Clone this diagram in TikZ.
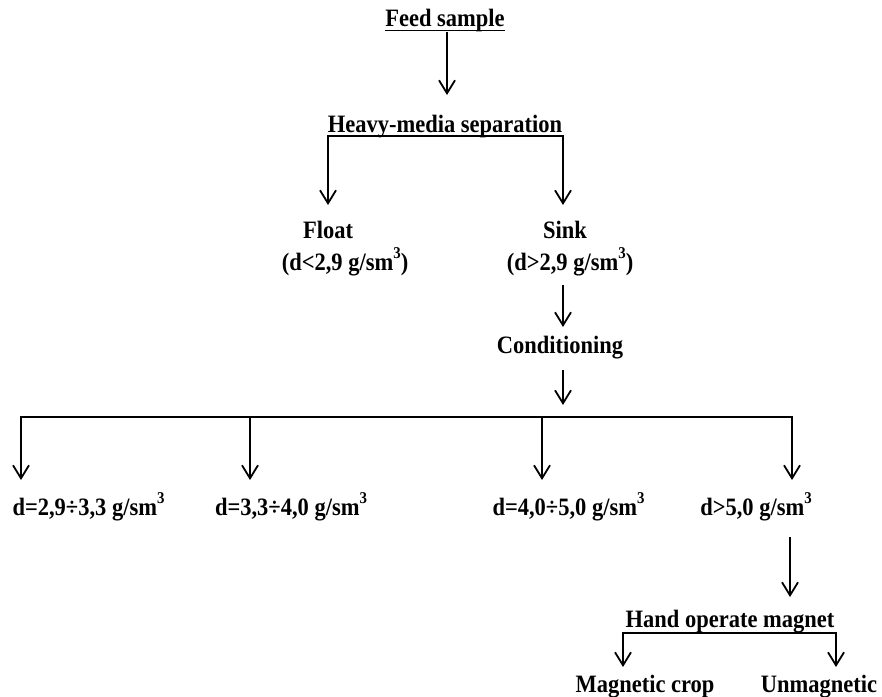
\documentclass[tikz,border=0pt]{standalone}
\usepackage{fontspec}
\newfontfamily\tnr[FakeStretch=0.9]{Liberation Serif}
\usetikzlibrary{arrows.meta}
\newcommand\cubd{\raisebox{11.5pt}{\fontsize{16.5}{16.5}\selectfont 3}}
\tikzset{
  lbl/.style={anchor=base, inner sep=0pt, font=\tnr\bfseries\fontsize{25}{30}\selectfont},
  ln/.style={line width=1.8pt, line cap=rect},
  arr/.style={line width=1.8pt, -{Straight Barb[length=13pt,width=16pt,line width=1.8pt]}},
}
\begin{document}
\begin{tikzpicture}[x=1pt,y=-1pt]
\useasboundingbox (0,0) rectangle (882,696);
% nodes
\node[lbl] (feed) at (445,26) {Feed sample};
\node[lbl] (heavy) at (445,132) {Heavy-media separation};
\node[lbl] (float) at (328,238) {Float};
\node[lbl] (floatd) at (345,270) {(d<2,9 g/sm\cubd)};
\node[lbl] (sink) at (565,238) {Sink};
\node[lbl] (sinkd) at (570,270) {(d>2,9 g/sm\cubd)};
\node[lbl] (cond) at (560,353) {Conditioning};
\node[lbl] (da) at (88.5,515) {d=2,9÷3,3 g/sm\cubd};
\node[lbl] (db) at (291,515) {d=3,3÷4,0 g/sm\cubd};
\node[lbl] (dc) at (568.5,515) {d=4,0÷5,0 g/sm\cubd};
\node[lbl] (dd) at (756,515) {d>5,0 g/sm\cubd};
\node[lbl] (hand) at (730,627) {Hand operate magnet};
\node[lbl] (mag) at (645,692) {Magnetic crop};
\node[lbl] (unmag) at (819,692) {Unmagnetic};
% coordinates
\coordinate (f1) at (447,32);
\coordinate (f2) at (447,95);
\coordinate (hL) at (328,136);
\coordinate (hR) at (563,136);
\coordinate (hLe) at (328,205);
\coordinate (hRe) at (563,205);
\coordinate (s1) at (563,285);
\coordinate (s2) at (563,327);
\coordinate (c1) at (563,370);
\coordinate (c2) at (563,405);
\coordinate (bA) at (21,417);
\coordinate (bB) at (250,417);
\coordinate (bC) at (542,417);
\coordinate (bD) at (792,417);
\coordinate (eA) at (21,480);
\coordinate (eB) at (250,480);
\coordinate (eC) at (542,480);
\coordinate (eD) at (792,480);
\coordinate (d1) at (790,537);
\coordinate (d2) at (790,597);
\coordinate (mL) at (623,633);
\coordinate (mR) at (836,633);
\coordinate (mLe) at (623,667);
\coordinate (mRe) at (836,667);
% underline
\draw[line width=1.8pt] ([yshift=-4.5pt]feed.base west) -- ([yshift=-4.5pt]feed.base east);
% connectors
\draw[arr] (f1) -- (f2);
\draw[ln] (hL) -- (hR);
\draw[arr] (hL) -- (hLe);
\draw[arr] (hR) -- (hRe);
\draw[arr] (s1) -- (s2);
\draw[arr] (c1) -- (c2);
\draw[ln] (bA) -- (bD);
\draw[arr] (bA) -- (eA);
\draw[arr] (bB) -- (eB);
\draw[arr] (bC) -- (eC);
\draw[arr] (bD) -- (eD);
\draw[arr] (d1) -- (d2);
\draw[ln] (mL) -- (mR);
\draw[arr] (mL) -- (mLe);
\draw[arr] (mR) -- (mRe);
\end{tikzpicture}
\end{document}
